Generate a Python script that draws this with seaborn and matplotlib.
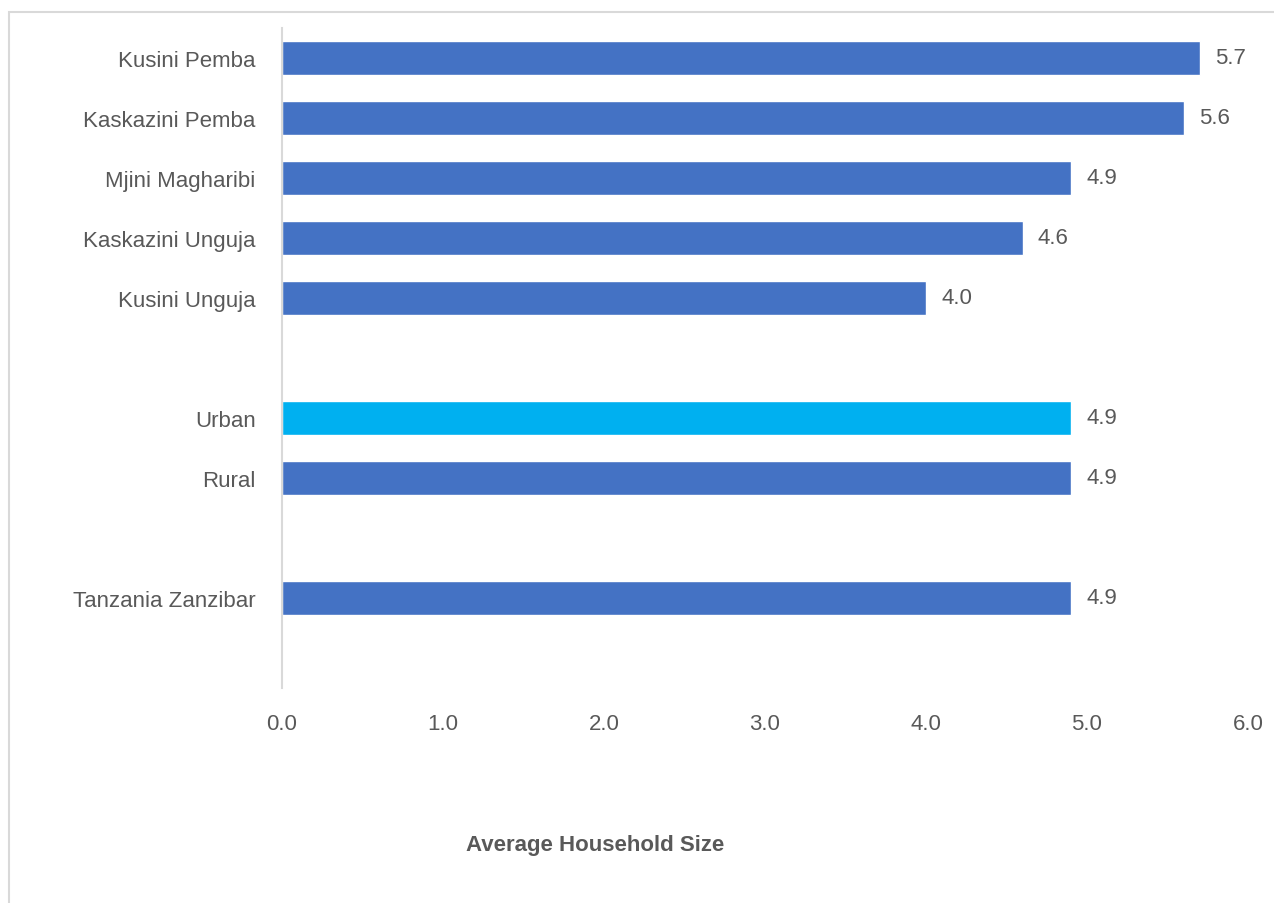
import matplotlib
matplotlib.use("Agg")
import matplotlib.pyplot as plt
import seaborn as sns
import pandas as pd
import numpy as np
from matplotlib.patches import Rectangle

# Average household size by region, residence and total
regions = ["Kusini Pemba", "Kaskazini Pemba", "Mjini Magharibi",
           "Kaskazini Unguja", "Kusini Unguja"]
region_values = [5.7, 5.6, 4.9, 4.6, 4.0]
residence = ["Urban", "Rural"]
residence_values = [4.9, 4.9]
total = ["Tanzania Zanzibar"]
total_values = [4.9]
xticks = [0.0, 1.0, 2.0, 3.0, 4.0, 5.0, 6.0]

# blank rows separate the groups
categories = regions + [" "] + residence + ["  "] + total + ["   "]
values = region_values + [np.nan] + residence_values + [np.nan] + total_values + [np.nan]
df = pd.DataFrame({"category": categories, "value": values})
df["group"] = ["hi" if c == "Urban" else "base" for c in categories]

sns.set_theme(style="white")
plt.rcParams["font.family"] = ["Liberation Sans Narrow", "Liberation Sans", "DejaVu Sans"]

text_color = "#595959"
fig = plt.figure(figsize=(12.74, 9.04), dpi=100)
ax = fig.add_axes([282 / 1274, 1 - 689 / 904, (1248 - 282) / 1274, 660 / 904])

sns.barplot(data=df, y="category", x="value", hue="group", order=categories,
            palette={"base": "#4472C4", "hi": "#00B0F0"}, width=0.58,
            saturation=1, dodge=False, legend=False, ax=ax, orient="h")

for cont in ax.containers:
    labels = ["" if np.isnan(w) else f"{w:.1f}" for w in cont.datavalues]
    ax.bar_label(cont, labels=labels, padding=11, fontsize=16, color=text_color)

ax.set_xlim(0, 6)
ax.set_xticks(xticks)
ax.set_xticklabels([f"{t:.1f}" for t in xticks])
ax.tick_params(axis="both", length=0, labelsize=16, labelcolor=text_color)
ax.tick_params(axis="x", pad=18)
ax.tick_params(axis="y", pad=19)
ax.set_xlabel("")
ax.set_ylabel("")
for side in ["top", "right", "bottom"]:
    ax.spines[side].set_visible(False)
ax.spines["left"].set_color("#D9D9D9")
ax.spines["left"].set_linewidth(1.5)

fig.text(595 / 1274, 1 - 846 / 904, "Average Household Size", ha="center", va="center",
         fontsize=16, fontweight="bold", color=text_color)

# outer chart frame
fig.patches.append(Rectangle((8.5 / 1274, -0.05), 1.1, 1 - 12.5 / 904 + 0.05,
                             transform=fig.transFigure, fill=False,
                             edgecolor="#D9D9D9", linewidth=1.5))

fig.savefig("out.png", dpi=100)
